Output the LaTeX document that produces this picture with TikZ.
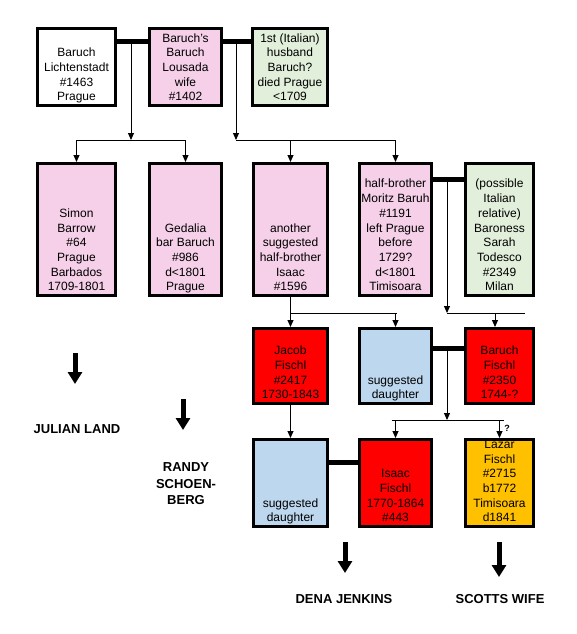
\documentclass[tikz,border=0pt]{standalone}
\usepackage{fontspec}
\setmainfont{Liberation Sans}
\usetikzlibrary{arrows.meta}
\definecolor{pinkb}{HTML}{F5D0E8}
\definecolor{greenb}{HTML}{E2EFDA}
\definecolor{blueb}{HTML}{BDD7EE}
\definecolor{redb}{HTML}{FF0000}
\definecolor{orangeb}{HTML}{FFC000}
\tikzset{
  fambox/.style={draw=black, line width=3pt, inner sep=0pt, rectangle},
  famtxt/.style={inner sep=0pt, align=center, font=\fontsize{12}{14.7}\selectfont},
  marbar/.style={line width=5pt},
  thinline/.style={line width=1pt},
  thinarr/.style={line width=1pt, -{Triangle[width=6pt,length=7pt]}},
  bigarr/.style={line width=5pt, -{Triangle[width=14pt,length=12pt]}},
  biglabel/.style={inner sep=0pt, align=center, font=\fontsize{13}{16.5}\selectfont\bfseries},
}
\newcommand\famb[7]{%
  \node[fambox,fill=#6,minimum width={#4-#2-3},minimum height={#5-#3-3}] (#1) at ({(#2+#4)/2},{(#3+#5)/2}) {};
  \node[famtxt,anchor=south] (#1t) at ({(#2+#4)/2},{#5-3}) {#7\rule[-3pt]{0pt}{1pt}};%
}
\begin{document}
\begin{tikzpicture}[x=1pt,y=-1pt]
\useasboundingbox[fill=white] (0,0) rectangle (577,634);
% boxes
\famb{A}{36}{27}{117}{107}{white}{Baruch\\Lichtenstadt\\\#1463\\Prague}
\famb{B}{148}{27}{223}{107}{pinkb}{Baruch's\\Baruch\\Lousada\\wife\\\#1402}
\famb{C}{251}{27}{329}{107}{greenb}{1st (Italian)\\husband\\Baruch?\\died Prague\\<1709}
\famb{D}{36}{162}{117}{297}{pinkb}{Simon\\Barrow\\\#64\\Prague\\Barbados\\1709-1801}
\famb{E}{148}{162}{223}{297}{pinkb}{Gedalia\\bar Baruch\\\#986\\d<1801\\Prague}
\famb{F}{252}{162}{329}{297}{pinkb}{another\\suggested\\half-brother\\Isaac\\\#1596}
\famb{G}{358}{162}{433}{297}{pinkb}{half-brother\\Moritz Baruh\\\#1191\\left Prague\\before\\1729?\\d<1801\\Timisoara}
\famb{H}{464}{162}{535}{297}{greenb}{(possible\\Italian\\relative)\\Baroness\\Sarah\\Todesco\\\#2349\\Milan}
\famb{J}{252}{327}{329}{405}{redb}{Jacob\\Fischl\\\#2417\\1730-1843}
\famb{K}{358}{327}{433}{405}{blueb}{suggested\\daughter}
\famb{L}{464}{327}{535}{405}{redb}{Baruch\\Fischl\\\#2350\\1744-?}
\famb{M}{252}{438}{329}{528}{blueb}{suggested\\daughter}
\famb{N}{358}{438}{433}{528}{redb}{Isaac\\Fischl\\1770-1864\\\#443}
\famb{O}{464}{438}{535}{528}{orangeb}{Lazar\\Fischl\\\#2715\\b1772\\Timisoara\\d1841}
% junction coordinates
\coordinate (jab) at (131,42);  \coordinate (hab) at (131,140);
\coordinate (jbc) at (236,42);  \coordinate (hbc) at (236,140);
\coordinate (jgh) at (447,179); \coordinate (hgh) at (447,313);
\coordinate (hghe) at (525,313); \coordinate (lin) at (495,313);
\coordinate (hf) at (290.5,313);
\coordinate (jkl) at (447,348); \coordinate (hkl) at (447,420);
\coordinate (jmn) at (343,462);
% marriage bars
\draw[marbar] (A.east |- jab) -- (B.west |- jab);
\draw[marbar] (B.east |- jbc) -- (C.west |- jbc);
\draw[marbar] (G.east |- jgh) -- (H.west |- jgh);
\draw[marbar] (K.east |- jkl) -- (L.west |- jkl);
\draw[marbar] (M.east |- jmn) -- (N.west |- jmn);
% descents
\draw[thinarr] (jab) -- (hab);
\draw[thinline] (D.north |- hab) -- (E.north |- hab);
\draw[thinarr] (D.north |- hab) -- (D.north);
\draw[thinarr] (E.north |- hab) -- (E.north);
\draw[thinarr] (jbc) -- (hbc);
\draw[thinline] (hbc) -- (G.north |- hbc);
\draw[thinarr] (F.north |- hbc) -- (F.north);
\draw[thinarr] (G.north |- hbc) -- (G.north);
\draw[thinarr] (jgh) -- (hgh);
\draw[thinline] (hgh) -- (hghe);
\draw[thinarr] (lin) -- (L.north -| lin);
\draw[thinarr] (F.south) -- (J.north);
\draw[thinline] (hf) -- ([xshift=1pt]K.north |- hf);
\draw[thinarr] (K.north |- hf) -- (K.north);
\draw[thinarr] (jkl) -- (hkl);
\draw[thinline] ([xshift=-4pt]N.north |- hkl) -- ([xshift=4pt]O.north |- hkl);
\draw[thinarr] (N.north |- hkl) -- (N.north);
\draw[thinarr] (O.north |- hkl) -- (O.north);
\node[inner sep=0pt, font=\fontsize{9}{10}\selectfont\bfseries] (qm) at (507,428) {?};
\draw[thinarr] (J.south) -- (M.north);
% big arrows and labels
\coordinate (b1s) at (75,353);  \coordinate (b1e) at (75,384);
\coordinate (b2s) at (183,399); \coordinate (b2e) at (183,430);
\coordinate (b3s) at (345,542); \coordinate (b3e) at (345,573);
\coordinate (b4s) at (499,542); \coordinate (b4e) at (499,577);
\draw[bigarr] (b1s) -- (b1e);
\draw[bigarr] (b2s) -- (b2e);
\draw[bigarr] (b3s) -- (b3e);
\draw[bigarr] (b4s) -- (b4e);
\node[biglabel] (jl) at (77,429) {JULIAN LAND};
\node[biglabel] (rs) at (186,484) {RANDY\\SCHOEN-\\BERG};
\node[biglabel] (dj) at (344,599) {DENA JENKINS};
\node[biglabel] (sw) at (500,599) {SCOTTS WIFE};
\end{tikzpicture}
\end{document}
